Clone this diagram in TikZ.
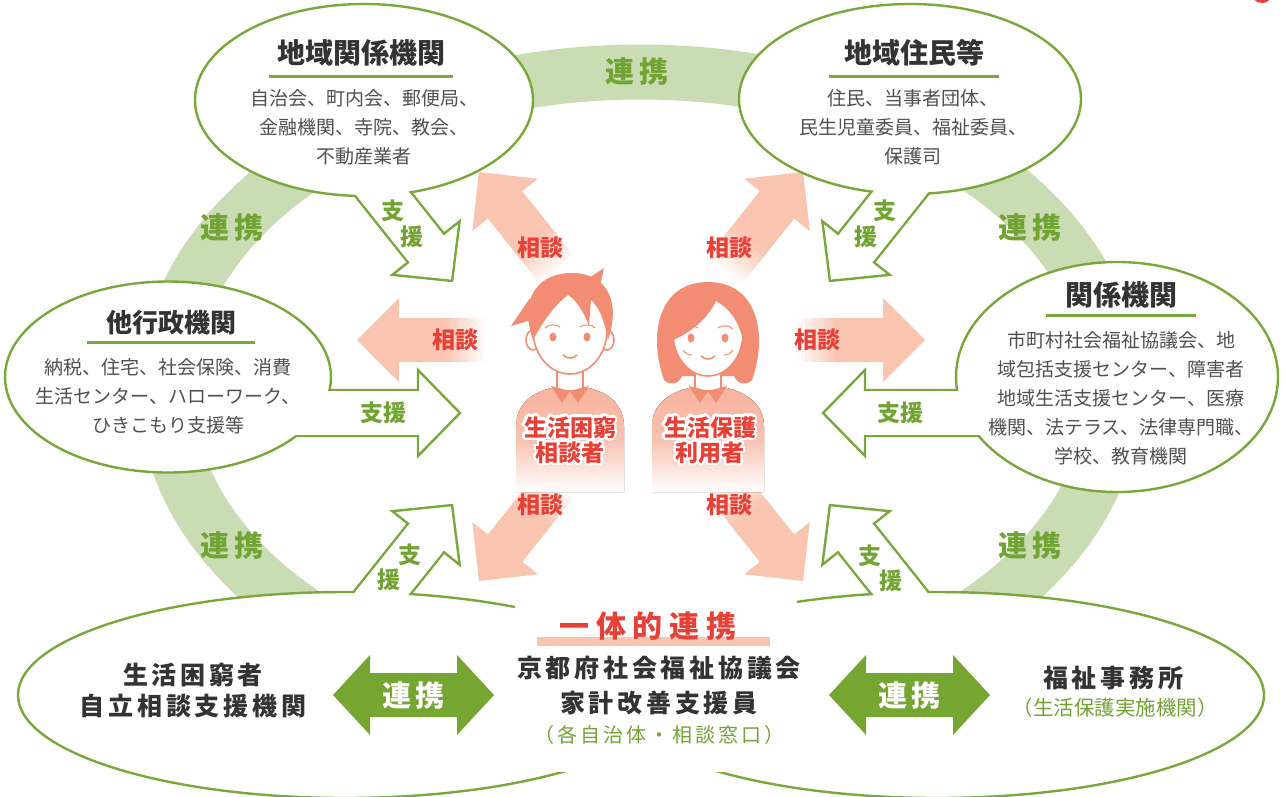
\documentclass[tikz,border=0pt]{standalone}
\usepackage{fontspec}
\setmainfont{Noto Sans CJK JP}
\newfontfamily\jpwide{Noto Sans CJK JP}[LetterSpace=15]
\newfontfamily\jpwider{Noto Sans CJK JP}[LetterSpace=22]
\usepackage{contour}
\contourlength{2.2pt}
\contournumber{32}
\usetikzlibrary{shapes.geometric}

\definecolor{ringgreen}{RGB}{201,220,179}
\definecolor{linegreen}{RGB}{120,168,60}
\definecolor{labelgreen}{RGB}{114,164,52}
\definecolor{renkeigreen}{RGB}{117,166,50}
\definecolor{soudanpink}{RGB}{249,196,176}
\definecolor{soudanred}{RGB}{232,64,54}
\definecolor{hair}{RGB}{242,141,115}
\definecolor{shirt}{RGB}{247,178,156}
\definecolor{darktext}{RGB}{51,51,51}
\definecolor{graytext}{RGB}{80,80,80}

\tikzset{
  % outlined support arrow, tail at the origin, pointing along +x
  pics/shien/.style={code={
    \draw[draw=linegreen, line width=2.4pt, fill=white]
      (0,-23) -- (#1,-23) -- (#1,-43) -- (#1+42,0) -- (#1,43) -- (#1,23) -- (0,23) -- cycle;
  }},
  % opens the bubble border where the shaft leaves it
  pics/shiengap/.style={code={
    \fill[white] (2,-21.6) rectangle (#1-1.5,21.6);
  }},
  % consultation arrow, fading in from the tail
  pics/soudan/.style={code={
    \foreach \k [evaluate=\k as \op using (\k+0.5)/10] in {0,...,9}
      \fill[soudanpink, opacity=\op] (\k*4,-22) rectangle (\k*4+4,22);
    \fill[soudanpink] (40,-22) -- (#1,-22) -- (#1,-42) -- (#1+42,0) -- (#1,42) -- (#1,22) -- (40,22) -- cycle;
  }},
  % two-headed arrow, centred on the origin
  pics/renkei/.style={code={
    \fill[renkeigreen] (-#1,0) -- (-#1+37,-40) -- (-#1+37,-22) -- (#1-37,-22) -- (#1-37,-40)
      -- (#1,0) -- (#1-37,40) -- (#1-37,22) -- (-#1+37,22) -- (-#1+37,40) -- cycle;
  }},
}

\begin{document}
\begin{tikzpicture}[x=1pt, y=-1pt,
  ringband/.style={draw=ringgreen, line width=55pt},
  bubble/.style={ellipse, draw=linegreen, line width=2.4pt, fill=white, inner sep=0pt},
  bubbletitle/.style={font=\fontsize{28}{32}\selectfont\bfseries, text=darktext, inner sep=0pt},
  titlerule/.style={draw=linegreen, line width=3pt},
  bodytext/.style={font=\fontsize{19}{29}\selectfont, text=graytext, align=center, inner sep=0pt},
  ringlabel/.style={font=\jpwide\fontsize{29}{32}\selectfont\bfseries, text=labelgreen},
  shienlabel/.style={font=\fontsize{23}{24}\selectfont\bfseries, text=labelgreen, inner sep=0pt},
  soudanlabel/.style={font=\fontsize{23}{24}\selectfont\bfseries, text=soudanred, inner sep=0pt},
  faceline/.style={draw=hair, line width=1.6pt},
  persontext/.style={font=\fontsize{23}{23.5}\selectfont\bfseries, text=soudanred, align=center},
  bottomtext/.style={font=\jpwide\fontsize{25}{31}\selectfont\bfseries, text=darktext, align=center},
]
\useasboundingbox (0,0) rectangle (1284,796);

% ring of cooperation behind everything
\draw[ringband] (640,390) ellipse [x radius=474, y radius=318];
\fill[soudanred] (1262,-8) circle [radius=11];

% consultation arrows out of the two persons
\pic[rotate=128.5]  at (558,271.4) {soudan=85};
\pic[rotate=51.5]   at (724,271.4) {soudan=85};
\pic[rotate=180]    at (485,340)   {soudan=86};
\pic                at (797,340)   {soudan=86};
\pic[rotate=-128.5] at (558,481.6) {soudan=85};
\pic[rotate=-51.5]  at (724,481.6) {soudan=85};

% support arrows, drawn before the bubbles they leave from
\pic[rotate=-51.5] at (360.6,165.9) {shien=105};
\pic[rotate=231.5] at (921.4,165.9) {shien=105};
\pic               at (280,413)     {shien=138};
\pic[rotate=180]   at (995,413)     {shien=130};
\pic[rotate=51.5]  at (360.6,620.1) {shien=105};
\pic[rotate=128.5] at (921.4,620.1) {shien=105};

% speech bubbles
\node[bubble, minimum width=338pt, minimum height=192pt] (chiiki) at (364,100)  {};
\node[bubble, minimum width=342pt, minimum height=190pt] (jumin)  at (910,99)   {};
\node[bubble, minimum width=326pt, minimum height=191pt] (gyosei) at (168,377)  {};
\node[bubble, minimum width=322pt, minimum height=230pt] (kankei) at (1117,377) {};
\pic[rotate=-51.5] at (360.6,165.9) {shiengap=105};
\pic[rotate=231.5] at (921.4,165.9) {shiengap=105};
\pic               at (280,413)     {shiengap=138};
\pic[rotate=180]   at (995,413)     {shiengap=130};

% bottom row
\node[bubble, minimum width=654pt, minimum height=206pt] (jiritsu) at (345,695) {};
\node[bubble, minimum width=654pt, minimum height=206pt] (fukushi) at (937,695) {};
\fill[white] (515,598) rectangle (797,772);
\pic[rotate=51.5]  at (360.6,620.1) {shiengap=105};
\pic[rotate=128.5] at (921.4,620.1) {shiengap=105};
\pic at (413.5,695) {renkei=80.5};
\pic at (909.5,695) {renkei=80.5};
\fill[soudanpink] (537,637) rectangle (770,646);

% person on the left
\fill[top color=shirt, bottom color=white, middle color=shirt!80]
  (516,492) -- (516,426) .. controls (516,400) and (540,386) .. (570,386)
  .. controls (600,386) and (624,400) .. (624,426) -- (624,492) -- cycle;
\draw[faceline, fill=white] (557,360) -- (557,388) .. controls (563,392) and (577,392) .. (583,388) -- (583,360);
\fill[hair] (551,386) -- (570,391) -- (562,403) -- cycle;
\fill[hair] (589,386) -- (570,391) -- (578,403) -- cycle;
\draw[faceline, fill=white] (533,340) ellipse [x radius=7, y radius=10];
\draw[faceline, fill=white] (607,340) ellipse [x radius=7, y radius=10];
\draw[faceline, fill=white] (570,330) ellipse [x radius=37, y radius=44];
\fill[hair] (533,340) .. controls (518,296) and (540,272) .. (574,273)
  .. controls (604,274) and (622,298) .. (608,340)
  .. controls (604,318) and (598,306) .. (591,300) -- (589,326)
  .. controls (583,310) and (576,300) .. (568,295)
  .. controls (556,304) and (545,318) .. (533,340) -- cycle;
\fill[hair] (538,318) -- (511,326) -- (530,298) -- cycle;
\fill[hair] (586,280) -- (604,268) -- (600,286) -- cycle;
\fill[hair] (553,337) ellipse [x radius=3.5, y radius=4.5];
\fill[hair] (587,337) ellipse [x radius=3.5, y radius=4.5];
\draw[faceline, line width=1pt] (545,328) .. controls (549,324) and (556,324) .. (560,327);
\draw[faceline, line width=1pt] (580,327) .. controls (584,324) and (591,324) .. (595,328);
\draw[faceline] (563,355) .. controls (567,359) and (573,359) .. (577,355);

% person on the right
\fill[top color=shirt, bottom color=white, middle color=shirt!80]
  (652,492) -- (652,426) .. controls (652,400) and (678,386) .. (708,386)
  .. controls (738,386) and (764,400) .. (764,426) -- (764,492) -- cycle;
\fill[hair] (664,380) .. controls (648,335) and (658,282) .. (708,282)
  .. controls (758,282) and (768,335) .. (752,380)
  .. controls (746,386) and (737,384) .. (734,376) -- (682,376)
  .. controls (679,384) and (670,386) .. (664,380) -- cycle;
\draw[faceline, fill=white] (695,360) -- (695,388) .. controls (701,392) and (715,392) .. (721,388) -- (721,360);
\fill[hair] (689,386) -- (708,391) -- (700,403) -- cycle;
\fill[hair] (727,386) -- (708,391) -- (716,403) -- cycle;
\draw[faceline, fill=white] (708,333) ellipse [x radius=35, y radius=43];
\fill[hair] (673,340) .. controls (668,302) and (688,290) .. (708,290)
  .. controls (730,290) and (748,304) .. (743,340)
  .. controls (738,320) and (730,309) .. (716,301)
  .. controls (708,318) and (692,332) .. (673,340) -- cycle;
\fill[hair] (691,338) ellipse [x radius=3.5, y radius=4.5];
\fill[hair] (725,338) ellipse [x radius=3.5, y radius=4.5];
\draw[faceline, line width=1pt] (683,329) .. controls (687,325) and (694,325) .. (698,328);
\draw[faceline, line width=1pt] (718,328) .. controls (722,325) and (729,325) .. (733,329);
\draw[faceline] (701,356) .. controls (705,360) and (711,360) .. (715,356);
\draw[faceline, line width=1pt] (683,350) .. controls (685,353) and (688,355) .. (692,355);
\draw[faceline, line width=1pt] (733,350) .. controls (731,353) and (728,355) .. (724,355);

% labels on the ring
\foreach \x/\y [count=\i] in {637/72, 232/228, 1030/228, 232/545, 1030/545}
  \node[ringlabel] (ring\i) at (\x,\y) {連携};

% labels on the support arrows
\foreach \x/\y/\t [count=\i] in {393/211/支, 412/237/援, 885/211/支, 866/237/援,
                                 383/413/支援, 900/413/支援,
                                 410/555/支, 389/580/援, 870/556/支, 891/581/援}
  \node[shienlabel] (shien\i) at (\x,\y) {\t};

% labels on the consultation arrows
\foreach \x/\y [count=\i] in {540/248, 729/248, 455/340, 817/340, 540/505, 729/505}
  \node[soudanlabel] (soudan\i) at (\x,\y) {相談};

% bubble texts
\node[bubbletitle] (chiikiT) at (361,53) {地域関係機関};
\draw[titlerule] ([xshift=-92pt,yshift=-23pt]chiikiT.center) -- ([xshift=92pt,yshift=-23pt]chiikiT.center);
\node[bodytext] (chiikiB) at (364,127) {自治会、町内会、郵便局、\\金融機関、寺院、教会、\\不動産業者};

\node[bubbletitle] (juminT) at (914,53) {地域住民等};
\draw[titlerule] ([xshift=-85pt,yshift=-23pt]juminT.center) -- ([xshift=85pt,yshift=-23pt]juminT.center);
\node[bodytext] (juminB) at (913,127) {住民、当事者団体、\\民生児童委員、福祉委員、\\保護司};

\node[bubbletitle, font=\fontsize{26}{30}\selectfont\bfseries] (gyoseiT) at (171,323) {他行政機関};
\draw[titlerule] ([xshift=-84pt,yshift=-19pt]gyoseiT.center) -- ([xshift=84pt,yshift=-19pt]gyoseiT.center);
\node[bodytext] (gyoseiB) at (168,396) {納税、住宅、社会保険、消費\\生活センター、ハローワーク、\\ひきこもり支援等};

\node[bubbletitle] (kankeiT) at (1121,295) {関係機関};
\draw[titlerule] ([xshift=-75pt,yshift=-20pt]kankeiT.center) -- ([xshift=75pt,yshift=-20pt]kankeiT.center);
\node[bodytext] (kankeiB) at (1121,398) {市町村社会福祉協議会、地\\域包括支援センター、障害者\\地域生活支援センター、医療\\機関、法テラス、法律専門職、\\学校、教育機関};

% persons
\node[persontext] (konkyu) at (570,441) {\contour{white}{生活困窮}\\\contour{white}{相談者}};
\node[persontext] (hogo)   at (710,441) {\contour{white}{生活保護}\\\contour{white}{利用者}};

% bottom row texts
\node[font=\jpwider\fontsize{30}{32}\selectfont\bfseries, text=soudanred] (ittai) at (648,626) {一体的連携};
\node[bottomtext] (jiritsuT) at (193,690) {生活困窮者\\自立相談支援機関};
\node[bottomtext, font=\jpwide\fontsize{25}{35}\selectfont\bfseries] (kakeiT) at (659,686) {京都府社会福祉協議会\\家計改善支援員};
\node[font=\jpwide\fontsize{20}{24}\selectfont, text=labelgreen] (kakeiN) at (659,735) {（各自治体・相談窓口）};
\node[bottomtext] (fukushiT) at (1113,678) {福祉事務所};
\node[font=\fontsize{20.5}{24}\selectfont, text=labelgreen] (fukushiN) at (1115,708) {（生活保護実施機関）};
\node[ringlabel, text=white] (renkeiL) at (413.5,695) {連携};
\node[ringlabel, text=white] (renkeiR) at (909.5,695) {連携};
\end{tikzpicture}
\end{document}
